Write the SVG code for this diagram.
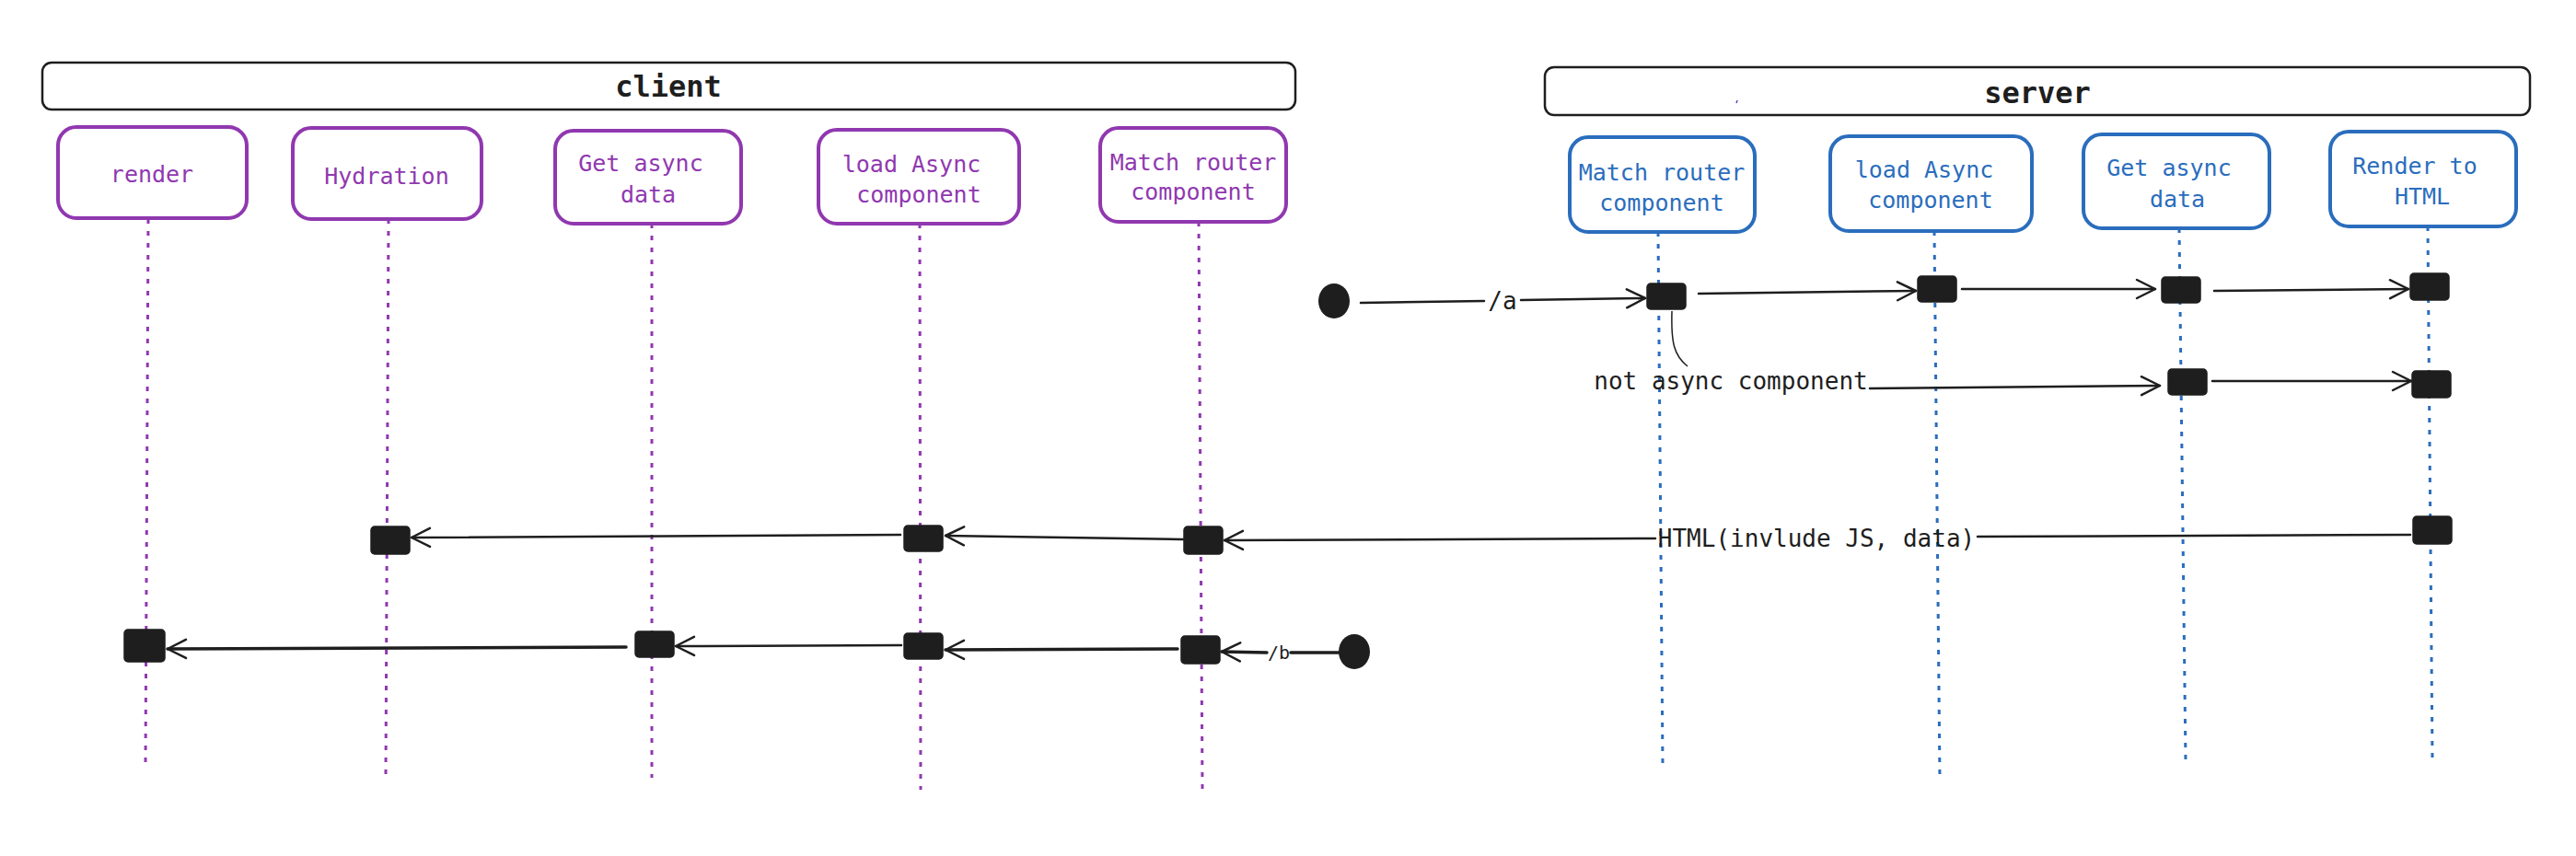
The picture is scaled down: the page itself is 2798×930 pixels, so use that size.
<svg xmlns="http://www.w3.org/2000/svg" width="2798" height="930" viewBox="0 0 2798 930">
<style>
  .frame{fill:#fff;stroke:#1e1e1e;stroke-width:2.5}
  .ft{font-family:"DejaVu Sans Mono","Liberation Mono",monospace;font-size:32px;font-weight:bold;fill:#1e1e1e;text-anchor:middle;dominant-baseline:central}
  .cbox{fill:#fff;stroke:#9038b0;stroke-width:4}
  .sbox{fill:#fff;stroke:#2a6dbd;stroke-width:4}
  .ct{font-family:"DejaVu Sans Mono","Liberation Mono",monospace;font-size:25px;fill:#9038b0;text-anchor:middle;dominant-baseline:central}
  .st{font-family:"DejaVu Sans Mono","Liberation Mono",monospace;font-size:25px;fill:#2a6dbd;text-anchor:middle;dominant-baseline:central}
  .cl{stroke:#9038b0;stroke-width:3;stroke-dasharray:5 8;fill:none}
  .sl{stroke:#2a6dbd;stroke-width:3;stroke-dasharray:5 8;fill:none}
  .act{fill:#1e1e1e;stroke:#1e1e1e;stroke-width:1.5}
  .ar{stroke:#1e1e1e;stroke-width:2.5;fill:none;stroke-linecap:round}
  .ar2{stroke:#1e1e1e;stroke-width:3.5;fill:none;stroke-linecap:round}
  .lt{font-family:"DejaVu Sans Mono","Liberation Mono",monospace;font-size:26px;fill:#1e1e1e;text-anchor:middle;dominant-baseline:central}
</style>
<defs>
  <marker id="arr" markerUnits="userSpaceOnUse" viewBox="0 0 24 24" refX="22" refY="12" markerWidth="24" markerHeight="24" orient="auto">
    <path d="M2,2 L22,12 L2,22" fill="none" stroke="#1e1e1e" stroke-width="2.5" stroke-linecap="round" stroke-linejoin="round"/>
  </marker>
</defs>

<g id="client-frame">
  <rect class="frame" x="46" y="68" width="1361" height="51" rx="10"/>
  <text class="ft" x="726" y="94">client</text>
</g>
<g id="server-frame">
  <rect class="frame" x="1678" y="73" width="1070" height="52" rx="10"/>
  <text class="ft" x="2213" y="101">server</text>
  <path d="M1886,112 L1887,109" stroke="#4a4ac0" stroke-width="1.5"/>
</g>

<g id="lifelines">
  <path class="cl" d="M161,238 L158,835"/>
  <path class="cl" d="M422,238 L419,842"/>
  <path class="cl" d="M708,243 L708,845"/>
  <path class="cl" d="M999,243 L1000,858"/>
  <path class="cl" d="M1302,241 L1306,857"/>
  <path class="sl" d="M1801,252 L1806,832"/>
  <path class="sl" d="M2101,251 L2107,848"/>
  <path class="sl" d="M2367,248 L2374,828"/>
  <path class="sl" d="M2637,246 L2642,825"/>
</g>

<g id="render">
  <rect class="cbox" x="63" y="138" width="205" height="99" rx="20"/>
  <text class="ct" x="165" y="189">render</text>
</g>
<g id="hydration">
  <rect class="cbox" x="318" y="139" width="205" height="99" rx="20"/>
  <text class="ct" x="420" y="191">Hydration</text>
</g>
<g id="client-get-async-data">
  <rect class="cbox" x="603" y="142" width="202" height="101" rx="20"/>
  <text class="ct" x="696" y="177">Get async</text>
  <text class="ct" x="704" y="211">data</text>
</g>
<g id="client-load-async-component">
  <rect class="cbox" x="889" y="141" width="218" height="102" rx="20"/>
  <text class="ct" x="990" y="178">load Async</text>
  <text class="ct" x="998" y="211">component</text>
</g>
<g id="client-match-router-component">
  <rect class="cbox" x="1195" y="139" width="202" height="102" rx="20"/>
  <text class="ct" x="1296" y="176">Match router</text>
  <text class="ct" x="1296" y="208">component</text>
</g>

<g id="server-match-router-component">
  <rect class="sbox" x="1705" y="149" width="201" height="103" rx="20"/>
  <text class="st" x="1805" y="187">Match router</text>
  <text class="st" x="1805" y="220">component</text>
</g>
<g id="server-load-async-component">
  <rect class="sbox" x="1988" y="148" width="219" height="103" rx="20"/>
  <text class="st" x="2090" y="184">load Async</text>
  <text class="st" x="2097" y="217">component</text>
</g>
<g id="server-get-async-data">
  <rect class="sbox" x="2263" y="146" width="202" height="102" rx="20"/>
  <text class="st" x="2356" y="182">Get async</text>
  <text class="st" x="2365" y="216">data</text>
</g>
<g id="render-to-html">
  <rect class="sbox" x="2531" y="143" width="202" height="103" rx="20"/>
  <text class="st" x="2623" y="180">Render to</text>
  <text class="st" x="2631" y="213">HTML</text>
</g>

<g id="start-a"><ellipse cx="1449" cy="327" rx="17" ry="19" fill="#1e1e1e"/></g>
<g id="start-b"><ellipse cx="1471" cy="708" rx="17" ry="19" fill="#1e1e1e"/></g>

<g id="activations">
  <rect class="act" x="1789" y="308" width="42" height="28" rx="4"/>
  <rect class="act" x="2083" y="300" width="42" height="28" rx="4"/>
  <rect class="act" x="2348" y="301" width="42" height="28" rx="4"/>
  <rect class="act" x="2618" y="297" width="42" height="29" rx="4"/>
  <rect class="act" x="2355" y="401" width="42" height="28" rx="4"/>
  <rect class="act" x="2620" y="403" width="42" height="29" rx="4"/>
  <rect class="act" x="2621" y="561" width="42" height="30" rx="4"/>
  <rect class="act" x="1286" y="572" width="42" height="30" rx="4"/>
  <rect class="act" x="982" y="571" width="42" height="28" rx="4"/>
  <rect class="act" x="403" y="572" width="42" height="30" rx="4"/>
  <rect class="act" x="1283" y="691" width="42" height="30" rx="4"/>
  <rect class="act" x="982" y="688" width="42" height="28" rx="4"/>
  <rect class="act" x="690" y="686" width="42" height="28" rx="4"/>
  <rect class="act" x="135" y="684" width="44" height="35" rx="4"/>
</g>

<g id="connectors">
  <path class="ar" d="M1478,329 L1612,327"/>
  <path class="ar" d="M1652,326 L1787,324" marker-end="url(#arr)"/>
  <text class="lt" x="1632" y="327">/a</text>
  <path class="ar" d="M1845,319 L2081,316" marker-end="url(#arr)"/>
  <path class="ar" d="M2131,314 L2341,314" marker-end="url(#arr)"/>
  <path class="ar" d="M2405,316 L2616,314" marker-end="url(#arr)"/>

  <path d="M1816,338 C1815,372 1818,386 1833,398" fill="none" stroke="#1e1e1e" stroke-width="1.5"/>
  <text class="lt" x="1880" y="414">not async component</text>
  <path class="ar" d="M2031,422 L2346,419" marker-end="url(#arr)"/>
  <path class="ar" d="M2403,414 L2619,414" marker-end="url(#arr)"/>

  <path class="ar" d="M2618,581 L2148,583"/>
  <text class="lt" x="1973" y="585">HTML(invlude JS, data)</text>
  <path class="ar" d="M1798,585 L1330,587" marker-end="url(#arr)"/>
  <path class="ar" d="M1285,586 L1027,582" marker-end="url(#arr)"/>
  <path class="ar" d="M978,581 L447,584" marker-end="url(#arr)"/>

  <path class="ar2" d="M1455,709 L1402,709"/>
  <text class="lt" style="font-size:20px" x="1389" y="709">/b</text>
  <path class="ar2" d="M1376,709 L1327,708" marker-end="url(#arr)"/>
  <path class="ar2" d="M1279,705 L1027,706" marker-end="url(#arr)"/>
  <path class="ar" d="M979,701 L734,702" marker-end="url(#arr)"/>
  <path class="ar2" d="M680,703 L182,705" marker-end="url(#arr)"/>
</g>
</svg>
